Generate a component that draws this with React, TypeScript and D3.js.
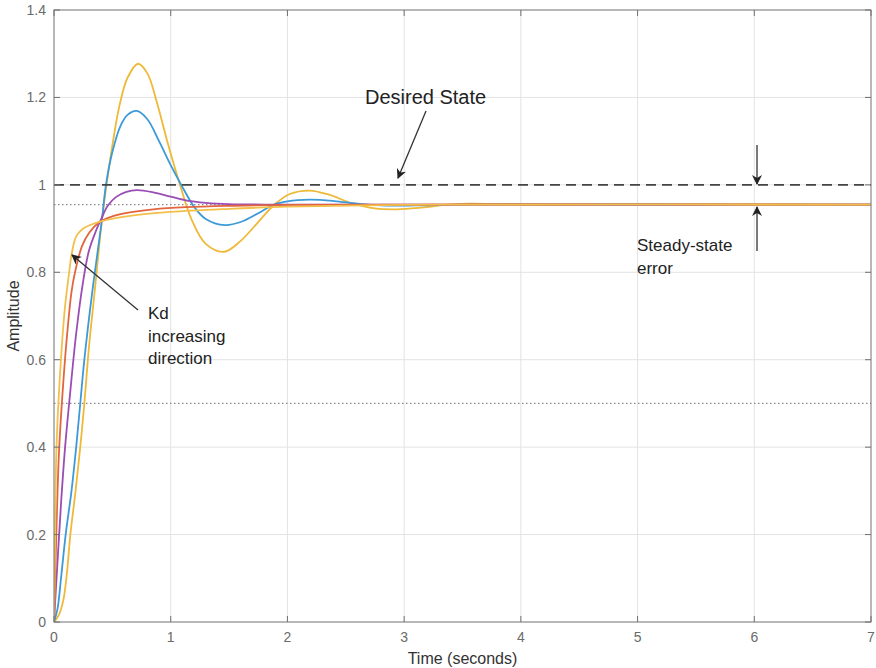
import React from "react";
import * as d3 from "d3";

const xTicks = [0, 1, 2, 3, 4, 5, 6, 7];
const yTicks = [0, 0.2, 0.4, 0.6, 0.8, 1, 1.2, 1.4];
const yTickLabels = ["0", "0.2", "0.4", "0.6", "0.8", "1", "1.2", "1.4"];

const desiredState = 1.0;
const steadyLevel = 0.955;
const riseLevel = 0.5;

// [time, amplitude] readings for each Kd setting
const yellowLowKd: [number, number][] = [
  [0, 0], [0.04, 0.015], [0.08, 0.05], [0.11, 0.11], [0.14, 0.2], [0.185, 0.3], [0.225, 0.4], [0.26, 0.5],
  [0.3, 0.63], [0.35, 0.76], [0.41, 0.918], [0.45, 1.0], [0.5, 1.09], [0.56, 1.18], [0.63, 1.245],
  [0.72, 1.277], [0.8, 1.255], [0.88, 1.19], [0.97, 1.1], [1.08, 1.0], [1.18, 0.92], [1.3, 0.865],
  [1.46, 0.847], [1.6, 0.872], [1.75, 0.915], [1.89, 0.955], [2.02, 0.979], [2.19, 0.987], [2.35, 0.978],
  [2.55, 0.958], [2.75, 0.946], [2.94, 0.944], [3.15, 0.948], [3.35, 0.954], [3.55, 0.957], [3.8, 0.956],
  [4.2, 0.955], [7, 0.955],
];
const blueKd: [number, number][] = [
  [0, 0], [0.03, 0.03], [0.06, 0.1], [0.1, 0.2], [0.15, 0.3], [0.19, 0.4], [0.225, 0.5], [0.26, 0.6],
  [0.33, 0.76], [0.41, 0.918], [0.445, 1.0], [0.5, 1.075], [0.57, 1.135], [0.63, 1.16], [0.71, 1.169],
  [0.8, 1.15], [0.9, 1.1], [1.0, 1.045], [1.09, 1.0], [1.2, 0.95], [1.3, 0.922], [1.465, 0.908],
  [1.6, 0.915], [1.75, 0.935], [1.87, 0.953], [2.0, 0.962], [2.19, 0.966], [2.4, 0.963], [2.6, 0.957],
  [2.8, 0.953], [3.1, 0.953], [3.5, 0.955], [7, 0.955],
];
const purpleKd: [number, number][] = [
  [0, 0], [0.015, 0.07], [0.035, 0.16], [0.06, 0.27], [0.095, 0.4], [0.137, 0.52], [0.19, 0.66],
  [0.25, 0.78], [0.3, 0.85], [0.36, 0.895], [0.41, 0.925], [0.46, 0.952], [0.53, 0.972], [0.62, 0.984],
  [0.71, 0.988], [0.85, 0.983], [1.0, 0.973], [1.14, 0.964], [1.3, 0.959], [1.5, 0.956], [1.8, 0.955],
  [7, 0.955],
];
const redKd: [number, number][] = [
  [0, 0], [0.01, 0.1], [0.025, 0.25], [0.043, 0.39], [0.08, 0.55], [0.12, 0.68], [0.15, 0.755],
  [0.18, 0.8], [0.24, 0.86], [0.3, 0.89], [0.39, 0.915], [0.5, 0.928], [0.65, 0.937], [0.85, 0.944],
  [1.13, 0.949], [1.5, 0.952], [2, 0.954], [3, 0.955], [7, 0.955],
];
const yellowHighKd: [number, number][] = [
  [0, 0], [0.005, 0.1], [0.012, 0.25], [0.02, 0.39], [0.05, 0.56], [0.094, 0.72], [0.13, 0.8],
  [0.15, 0.84], [0.19, 0.882], [0.24, 0.898], [0.3, 0.907], [0.41, 0.917], [0.65, 0.929], [1.0, 0.938],
  [1.5, 0.945], [2, 0.95], [3, 0.954], [4, 0.955], [7, 0.955],
];

const seriesList = [
  { name: "Kd1", data: yellowLowKd, color: "#efb938" },
  { name: "Kd2", data: blueKd, color: "#3d9ad8" },
  { name: "Kd3", data: purpleKd, color: "#9a4db4" },
  { name: "Kd4", data: redKd, color: "#e2653d" },
  { name: "Kd5", data: yellowHighKd, color: "#f2c04a" },
];

const W = 876;
const H = 668;
const M = { left: 54, right: 871, top: 10, bottom: 622 };

export default function App() {
  const x = d3.scaleLinear().domain([0, 7]).range([M.left, M.right]);
  const y = d3.scaleLinear().domain([0, 1.4]).range([M.bottom, M.top]);
  const line = d3
    .line<[number, number]>()
    .x((d) => x(d[0]))
    .y((d) => y(d[1]))
    .curve(d3.curveCatmullRom.alpha(0.5));

  const font = "Arial, 'Liberation Sans', Helvetica, sans-serif";
  const tickColor = "#6b6b6b";
  const gridColor = "#e3e3e3";
  const axisColor = "#707070";

  return (
    <svg
      width={W}
      height={H}
      style={{ position: "absolute", left: 0, top: 0, background: "#fff" }}
      fontFamily={font}
    >
      <defs>
        <marker id="ah" viewBox="0 0 10 10" refX="9" refY="5" markerWidth="10" markerHeight="10" orient="auto-start-reverse" markerUnits="userSpaceOnUse">
          <path d="M0,0 L10,5 L0,10 L3,5 z" fill="#222" />
        </marker>
        <marker id="ahSmall" viewBox="0 0 10 10" refX="9" refY="5" markerWidth="10" markerHeight="11" orient="auto-start-reverse" markerUnits="userSpaceOnUse">
          <path d="M0,0 L10,5 L0,10 L3,5 z" fill="#222" />
        </marker>
        <clipPath id="plotClip">
          <rect x={M.left} y={M.top} width={M.right - M.left} height={M.bottom - M.top} />
        </clipPath>
      </defs>

      {/* grid */}
      {xTicks.slice(1, -1).map((t) => (
        <line key={"gx" + t} x1={x(t)} x2={x(t)} y1={M.top} y2={M.bottom} stroke={gridColor} strokeWidth={1} />
      ))}
      {yTicks.slice(1, -1).map((t) => (
        <line key={"gy" + t} x1={M.left} x2={M.right} y1={y(t)} y2={y(t)} stroke={gridColor} strokeWidth={1} />
      ))}

      {/* reference lines */}
      <line x1={x(0)} x2={x(7)} y1={y(riseLevel)} y2={y(riseLevel)} stroke="#8a8a8a" strokeWidth={1.2} strokeDasharray="1.5 2.5" />
      <line x1={x(0)} x2={x(7)} y1={y(steadyLevel)} y2={y(steadyLevel)} stroke="#8a8a8a" strokeWidth={1.2} strokeDasharray="1.5 2.5" />

      {/* curves */}
      <g clipPath="url(#plotClip)">
        {seriesList.map((s) => (
          <path key={s.name} d={line(s.data) || ""} fill="none" stroke={s.color} strokeWidth={1.8} />
        ))}
      </g>

      {/* desired state */}
      <line x1={x(0)} x2={x(7)} y1={y(desiredState)} y2={y(desiredState)} stroke="#444" strokeWidth={1.6} strokeDasharray="10 6" />

      {/* frame */}
      <rect x={M.left} y={M.top} width={M.right - M.left} height={M.bottom - M.top} fill="none" stroke={axisColor} strokeWidth={1} />

      {/* ticks */}
      {xTicks.map((t) => (
        <g key={"tx" + t}>
          <line x1={x(t)} x2={x(t)} y1={M.bottom} y2={M.bottom - 6} stroke={axisColor} />
          <line x1={x(t)} x2={x(t)} y1={M.top} y2={M.top + 6} stroke={axisColor} />
          <text x={x(t)} y={M.bottom + 20} textAnchor="middle" fontSize={14} fill={tickColor}>
            {t}
          </text>
        </g>
      ))}
      {yTicks.map((t, i) => (
        <g key={"ty" + t}>
          <line x1={M.left} x2={M.left + 6} y1={y(t)} y2={y(t)} stroke={axisColor} />
          <line x1={M.right} x2={M.right - 6} y1={y(t)} y2={y(t)} stroke={axisColor} />
          <text x={M.left - 8} y={y(t) + 5} textAnchor="end" fontSize={14} fill={tickColor}>
            {yTickLabels[i]}
          </text>
        </g>
      ))}

      {/* axis labels */}
      <text x={(M.left + M.right) / 2} y={664} textAnchor="middle" fontSize={16} fill="#333">
        Time (seconds)
      </text>
      <text transform={`translate(19, ${(M.top + M.bottom) / 2}) rotate(-90)`} textAnchor="middle" fontSize={16} fill="#333">
        Amplitude
      </text>

      {/* annotations */}
      <text x={365} y={104} fontSize={20} fill="#222">Desired State</text>
      <line x1={426} y1={111} x2={398} y2={178} stroke="#333" strokeWidth={1.3} markerEnd="url(#ah)" />

      <line x1={757} y1={145} x2={757} y2={184} stroke="#333" strokeWidth={1.3} markerEnd="url(#ahSmall)" />
      <line x1={757} y1={251} x2={757} y2={207} stroke="#333" strokeWidth={1.3} markerEnd="url(#ahSmall)" />
      <text x={637} y={251} fontSize={17} fill="#222">Steady-state</text>
      <text x={637} y={274} fontSize={17} fill="#222">error</text>

      <line x1={138} y1={310} x2={72} y2={255} stroke="#333" strokeWidth={1.3} markerEnd="url(#ah)" />
      <text x={148} y={319} fontSize={17} fill="#222">Kd</text>
      <text x={148} y={342} fontSize={17} fill="#222">increasing</text>
      <text x={148} y={364} fontSize={17} fill="#222">direction</text>
    </svg>
  );
}
